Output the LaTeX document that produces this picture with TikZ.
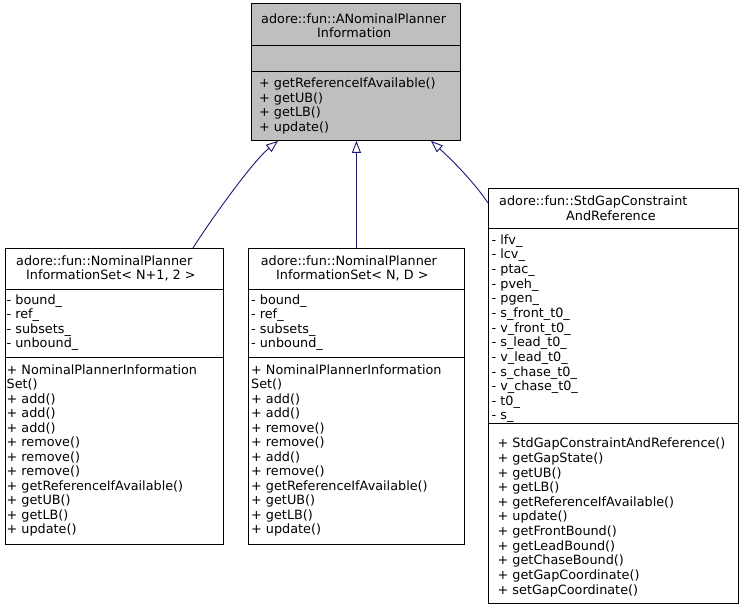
\documentclass[tikz,border=0pt]{standalone}
\usepackage{fontspec}
\setmainfont{DejaVu Sans}
\usetikzlibrary{arrows.meta}
\definecolor{edgeblue}{HTML}{191970}
\definecolor{basefill}{HTML}{BFBFBF}
\newcommand\firstln{\rule{0pt}{10pt}}
\begin{document}
\begin{tikzpicture}[x=1pt,y=-1pt,
  box/.style={draw=black, line width=0.9pt, rectangle, inner sep=0pt, anchor=north west, fill=white},
  sepline/.style={draw=black, line width=0.9pt},
  txt/.style={inner sep=0pt, align=left, anchor=north west, yshift=10pt, font=\fontsize{12.8}{14.5}\selectfont},
  txtr/.style={txt, font=\fontsize{12.8}{14.65}\selectfont},
  ttl/.style={inner sep=0pt, anchor=base west, font=\fontsize{12.8}{14.5}\selectfont},
  inh/.style={draw=edgeblue, line width=0.9pt, -{Triangle[open,length=12pt,width=9pt]}}]
\useasboundingbox (0,0) rectangle (745,609);

% ---- base class ----
\node[box, fill=basefill, minimum width=209pt, minimum height=137pt] (base) at (251,3) {};
\draw[sepline] (base.west |- 0,45) -- (base.east |- 0,45);
\draw[sepline] (base.west |- 0,71) -- (base.east |- 0,71);
\node[ttl] (baseT1) at (261,24) {adore::fun::ANominalPlanner};
\node[ttl] (baseT2) at (317,37.5) {Information};
\node[txt] (baseM) at (259,87.5) {\firstln+ getReferenceIfAvailable()\\+ getUB()\\+ getLB()\\+ update()};

% ---- left class ----
\node[box, minimum width=218pt, minimum height=296pt] (ls) at (5,248) {};
\draw[sepline] (ls.west |- 0,289) -- (ls.east |- 0,289);
\draw[sepline] (ls.west |- 0,357.5) -- (ls.east |- 0,357.5);
\node[ttl] (lsT1) at (16,265.5) {adore::fun::NominalPlanner};
\node[ttl] (lsT2) at (26,280) {InformationSet< N+1, 2 >};
\node[txt] (lsA) at (6.5,304) {\firstln- bound\_\\- ref\_\\- subsets\_\\- unbound\_};
\node[txt] (lsM) at (6.5,374) {\firstln+ NominalPlannerInformation\\Set()\\+ add()\\+ add()\\+ add()\\+ remove()\\+ remove()\\+ remove()\\+ getReferenceIfAvailable()\\+ getUB()\\+ getLB()\\+ update()};

% ---- middle class ----
\node[box, minimum width=216pt, minimum height=296pt] (ms) at (248,248) {};
\draw[sepline] (ms.west |- 0,289) -- (ms.east |- 0,289);
\draw[sepline] (ms.west |- 0,357.5) -- (ms.east |- 0,357.5);
\node[ttl] (msT1) at (260.7,265.5) {adore::fun::NominalPlanner};
\node[ttl] (msT2) at (276,280) {InformationSet< N, D >};
\node[txt] (msA) at (251,304) {\firstln- bound\_\\- ref\_\\- subsets\_\\- unbound\_};
\node[txt] (msM) at (251,374) {\firstln+ NominalPlannerInformation\\Set()\\+ add()\\+ add()\\+ remove()\\+ remove()\\+ add()\\+ remove()\\+ getReferenceIfAvailable()\\+ getUB()\\+ getLB()\\+ update()};

% ---- right class ----
\node[box, minimum width=250pt, minimum height=415pt] (rs) at (488,188) {};
\draw[sepline] (rs.west |- 0,228.5) -- (rs.east |- 0,228.5);
\draw[sepline] (rs.west |- 0,423.5) -- (rs.east |- 0,423.5);
\node[ttl] (rsT1) at (499,206) {adore::fun::StdGapConstraint};
\node[ttl] (rsT2) at (566,220.5) {AndReference};
\node[txtr] (rsA) at (491.5,244) {\firstln- lfv\_\\- lcv\_\\- ptac\_\\- pveh\_\\- pgen\_\\- s\_front\_t0\_\\- v\_front\_t0\_\\- s\_lead\_t0\_\\- v\_lead\_t0\_\\- s\_chase\_t0\_\\- v\_chase\_t0\_\\- t0\_\\- s\_};
\node[txtr] (rsM) at (497.5,447.5) {\firstln+ StdGapConstraintAndReference()\\+ getGapState()\\+ getUB()\\+ getLB()\\+ getReferenceIfAvailable()\\+ update()\\+ getFrontBound()\\+ getLeadBound()\\+ getChaseBound()\\+ getGapCoordinate()\\+ setGapCoordinate()};

% ---- inheritance edges ----
\draw[inh] ([xshift=188pt]ls.north west) .. controls (208,224) and (252,162) .. ([xshift=27pt]base.south west);
\draw[inh] (ms.north) -- (ms.north |- base.south);
\draw[inh] ([yshift=-15pt]rs.north west) .. controls (474,182) and (452,160) .. ([xshift=180pt]base.south west);
\end{tikzpicture}
\end{document}
